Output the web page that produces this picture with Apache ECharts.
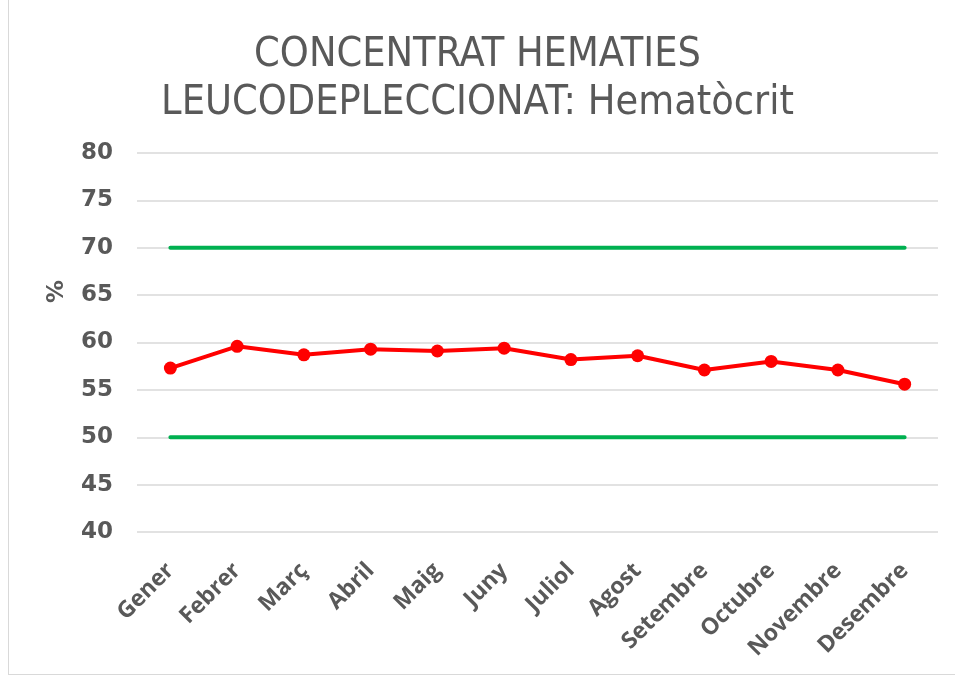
<!DOCTYPE html>
<html lang="ca">
<head>
    <meta charset="UTF-8">
    <title>Hematòcrit</title>
    <script src="https://cdn.jsdelivr.net/npm/echarts@6/dist/echarts.min.js"></script>
    <style>
        html, body { margin: 0; padding: 0; background: #fff; }
        #frame { position: absolute; left: 8px; top: -2px; width: 960px; height: 677px; border: 1px solid #d9d9d9; box-sizing: border-box; }
        #main { position: absolute; left: 0; top: 0; width: 955px; height: 678px; }
    </style>
</head>
<body>
    <div id="frame"></div>
    <div id="main"></div>
<script>
    // dades
    var mesos = ['Gener', 'Febrer', 'Març', 'Abril', 'Maig', 'Juny', 'Juliol', 'Agost', 'Setembre', 'Octubre', 'Novembre', 'Desembre'];
    var hematocrit = [57.3, 59.6, 58.7, 59.3, 59.1, 59.4, 58.2, 58.6, 57.1, 58.0, 57.1, 55.6];
    var limitSuperior = [70, 70, 70, 70, 70, 70, 70, 70, 70, 70, 70, 70];
    var limitInferior = [50, 50, 50, 50, 50, 50, 50, 50, 50, 50, 50, 50];

    var myChart = echarts.init(document.getElementById('main'));

    var option = {
        animation: false,
        title: {
            text: 'CONCENTRAT HEMATIES\nLEUCODEPLECCIONAT: Hematòcrit',
            left: 'center',
            top: 26,
            textStyle: {
                fontFamily: 'DejaVu Sans Condensed',
                fontWeight: 'normal',
                fontSize: 41,
                lineHeight: 48,
                color: '#595959'
            }
        },
        grid: { left: 137, right: 17, top: 153, bottom: 146 },
        xAxis: {
            type: 'category',
            boundaryGap: true,
            data: mesos,
            axisLine: { show: false },
            axisTick: { show: false },
            axisLabel: {
                rotate: 45,
                interval: 0,
                margin: 35,
                fontFamily: 'Open Sans',
                fontWeight: 'bold',
                fontSize: 23,
                color: '#595959'
            }
        },
        yAxis: {
            type: 'value',
            min: 40,
            max: 80,
            interval: 5,
            name: '%',
            nameLocation: 'middle',
            nameGap: 68,
            nameRotate: 90,
            nameTextStyle: {
                fontFamily: 'DejaVu Sans',
                fontWeight: 'bold',
                fontSize: 23,
                color: '#595959',
                padding: [0, 0, 0, 102]
            },
            axisLine: { show: false },
            axisTick: { show: false },
            axisLabel: {
                margin: 24,
                fontFamily: 'DejaVu Sans',
                fontWeight: 'bold',
                fontSize: 23,
                color: '#595959'
            },
            splitLine: { lineStyle: { color: '#d9d9d9', width: 1.5 } }
        },
        series: [{
            name: 'Límit superior',
            type: 'line',
            data: limitSuperior,
            symbol: 'none',
            lineStyle: { color: '#00b050', width: 4, cap: 'round' }
        }, {
            name: 'Límit inferior',
            type: 'line',
            data: limitInferior,
            symbol: 'none',
            lineStyle: { color: '#00b050', width: 4, cap: 'round' }
        }, {
            name: 'Hematòcrit',
            type: 'line',
            data: hematocrit,
            symbol: 'circle',
            symbolSize: 13,
            itemStyle: { color: '#ff0000' },
            lineStyle: { color: '#ff0000', width: 4, join: 'round' }
        }]
    };

    myChart.setOption(option);
</script>
</body>
</html>
